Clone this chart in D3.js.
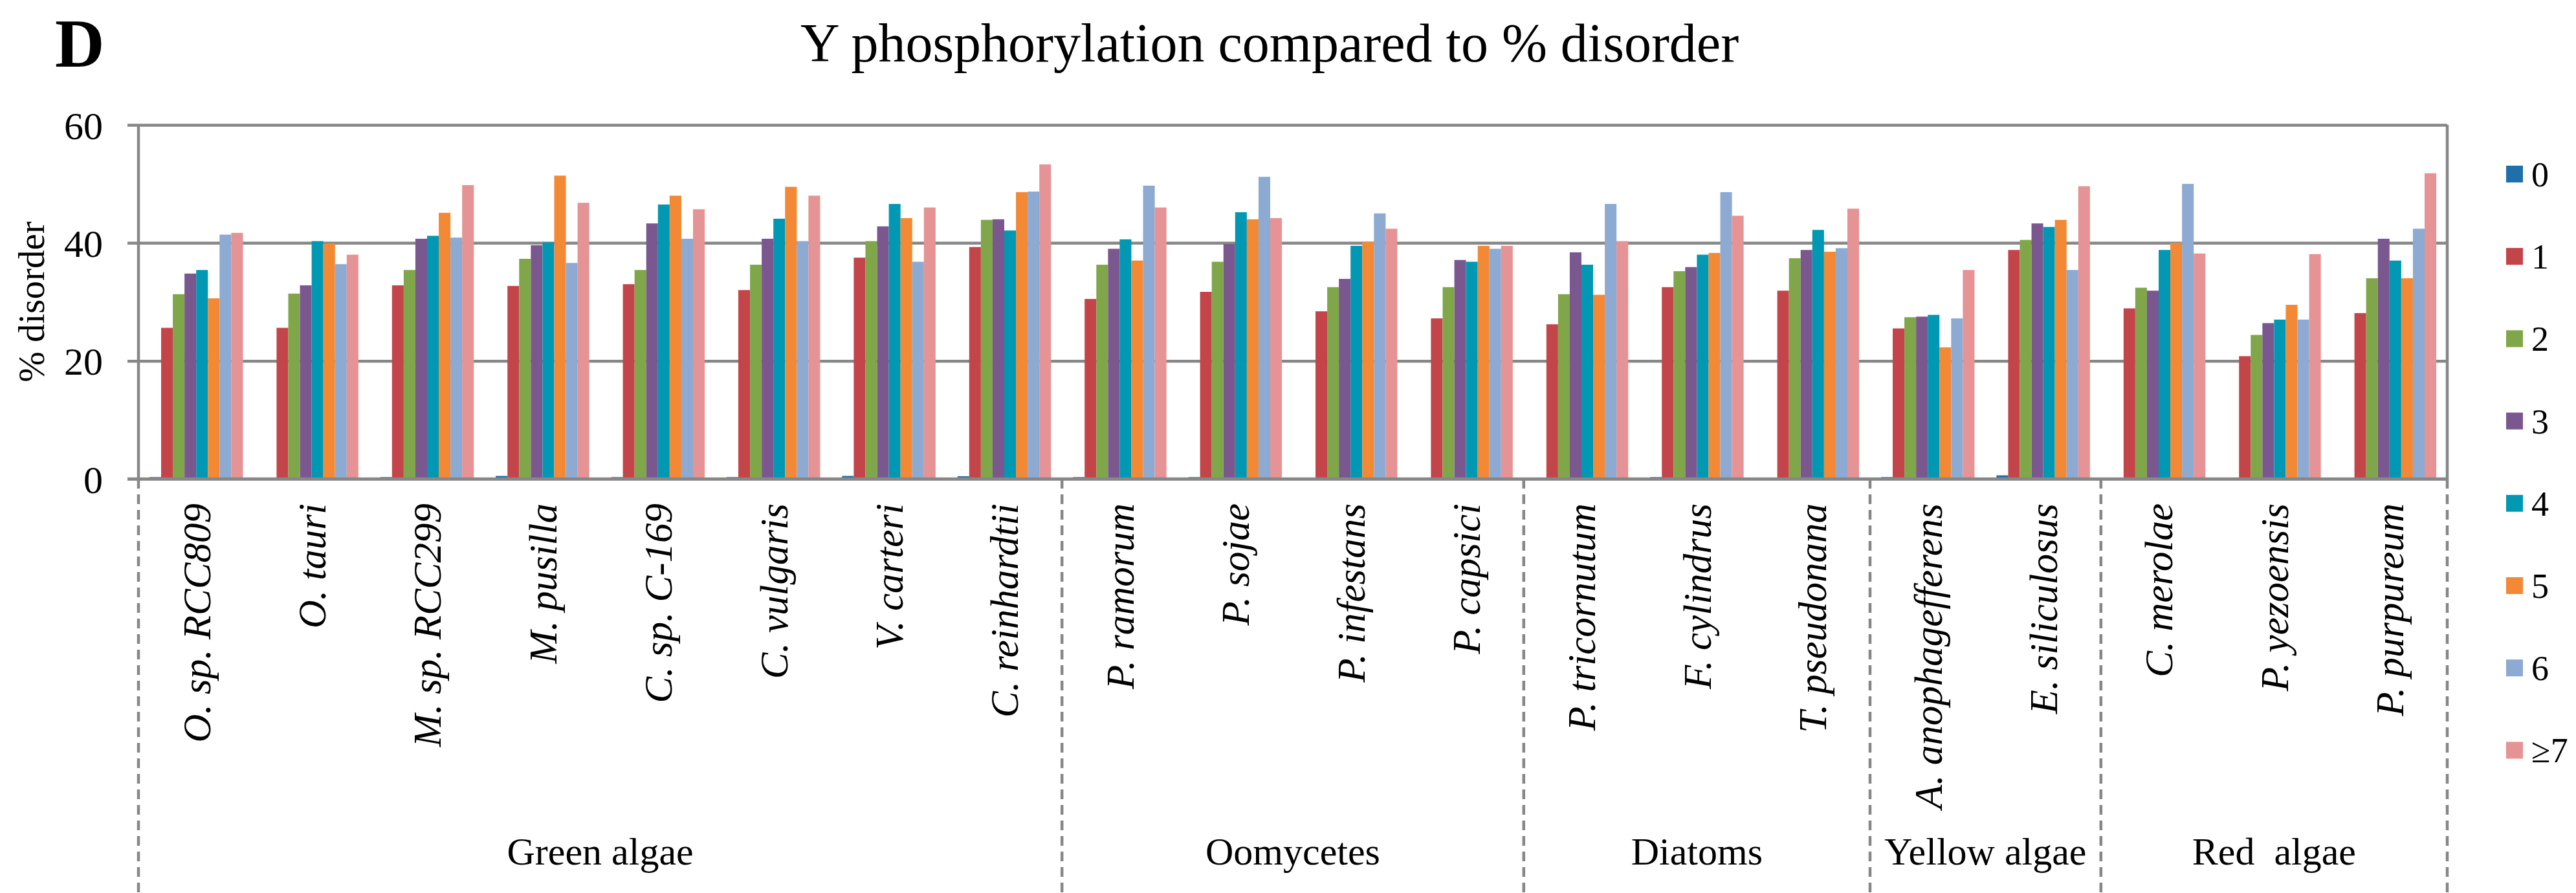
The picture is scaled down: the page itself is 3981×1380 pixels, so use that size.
<!DOCTYPE html>
<html lang="en">
<head>
<meta charset="utf-8">
<script src="https://d3js.org/d3.v7.min.js"></script>
<style>
  body { margin: 0; background: #fff; }
</style>
</head>
<body>
<script>
// categories (species) and the groups they belong to
const categories = ["O. sp. RCC809", "O. tauri", "M. sp. RCC299", "M. pusilla", "C. sp. C-169",
  "C. vulgaris", "V. carteri", "C. reinhardtii", "P. ramorum", "P. sojae", "P. infestans",
  "P. capsici", "P. tricornutum", "F. cylindrus", "T. pseudonana", "A. anophagefferens",
  "E. siliculosus", "C. merolae", "P. yezoensis", "P. purpureum"];
const groupNames = ["Green algae", "Oomycetes", "Diatoms", "Yellow algae", "Red  algae"];
const groupSizes = [8, 4, 3, 2, 3];
const seriesNames = ["0", "1", "2", "3", "4", "5", "6", "≥7"];
const yTicks = [0, 20, 40, 60];

// % disorder per series, one value per category
const s0 = [0.3, 0.1, 0.3, 0.5, 0.3, 0.3, 0.5, 0.45, 0.3, 0.3, 0.1, 0.2, 0.1, 0.3, 0.2, 0.3, 0.6, 0.2, 0.2, 0.2];
const s1 = [25.6, 25.6, 32.8, 32.7, 33.0, 32.0, 37.5, 39.3, 30.5, 31.7, 28.4, 27.2, 26.2, 32.5, 31.9, 25.5, 38.8, 28.9, 20.8, 28.1];
const s2 = [31.3, 31.4, 35.4, 37.3, 35.4, 36.3, 40.3, 43.9, 36.3, 36.8, 32.5, 32.5, 31.3, 35.2, 37.4, 27.4, 40.5, 32.4, 24.4, 34.0];
const s3 = [34.8, 32.8, 40.7, 39.6, 43.3, 40.7, 42.8, 44.0, 39.0, 39.8, 33.9, 37.1, 38.4, 35.9, 38.8, 27.5, 43.3, 31.9, 26.4, 40.7];
const s4 = [35.4, 40.3, 41.2, 40.1, 46.5, 44.1, 46.6, 42.1, 40.6, 45.2, 39.5, 36.8, 36.3, 38.0, 42.2, 27.8, 42.7, 38.8, 27.0, 37.0];
const s5 = [30.6, 39.9, 45.1, 51.4, 48.0, 49.5, 44.2, 48.6, 37.0, 44.0, 40.2, 39.5, 31.2, 38.3, 38.5, 22.3, 43.9, 40.0, 29.5, 34.0];
const s6 = [41.4, 36.4, 40.9, 36.6, 40.7, 40.3, 36.8, 48.7, 49.7, 51.2, 45.0, 39.0, 46.6, 48.6, 39.1, 27.2, 35.4, 50.0, 27.0, 42.4];
const s7 = [41.7, 38.0, 49.8, 46.8, 45.7, 48.0, 46.0, 53.3, 46.0, 44.2, 42.4, 39.5, 40.3, 44.6, 45.8, 35.4, 49.6, 38.2, 38.1, 51.8];
const seriesValues = [s0, s1, s2, s3, s4, s5, s6, s7];

const colors = ["#1f6fab", "#c3454a", "#80a64a", "#7b5790", "#0098b3", "#f38835", "#8caad2", "#e59394"];

const W = 3981, H = 1380;
const plotL = 214, plotR = 3782, plotT = 193, plotB = 740;
const gridColor = "#878787";
const serif = '"Liberation Serif", "Times New Roman", serif';

const svg = d3.select("body").append("svg")
  .attr("width", W).attr("height", H)
  .attr("font-family", serif);
svg.append("rect").attr("width", W).attr("height", H).attr("fill", "#fff");

const x0 = d3.scaleBand().domain(categories).range([plotL, plotR]).padding(0);
const gap = x0.bandwidth() * 0.19;
const x1 = d3.scaleBand().domain(seriesNames).range([gap / 2, x0.bandwidth() - gap / 2]).padding(0);
const y = d3.scaleLinear().domain([0, 60]).range([plotB, plotT]);

// gridlines + y tick labels
const yAxis = svg.append("g")
  .attr("transform", "translate(197,0)")
  .call(d3.axisRight(y).tickValues(yTicks).tickSize(plotR - 197).tickFormat(d3.format("d")))
  .attr("font-family", serif);
yAxis.select(".domain").remove();
yAxis.selectAll(".tick line").attr("stroke", gridColor).attr("stroke-width", 4.5);
yAxis.selectAll(".tick text")
  .attr("x", -38).attr("dy", "0.35em")
  .attr("text-anchor", "end")
  .attr("fill", "#000")
  .style("font-family", serif)
  .style("font-size", "60px");

// left axis line and right border
svg.append("line").attr("x1", plotL).attr("x2", plotL).attr("y1", plotT).attr("y2", plotB)
  .attr("stroke", gridColor).attr("stroke-width", 4.5);
svg.append("line").attr("x1", plotR).attr("x2", plotR).attr("y1", plotT).attr("y2", plotB)
  .attr("stroke", gridColor).attr("stroke-width", 4.5);

// bars
const cat = svg.append("g").selectAll("g")
  .data(categories)
  .enter().append("g")
  .attr("transform", d => "translate(" + x0(d) + ",0)");

cat.selectAll("rect")
  .data((d, i) => seriesNames.map((s, j) => ({ s: s, j: j, v: seriesValues[j][i] })))
  .enter().append("rect")
  .attr("x", d => x1(d.s))
  .attr("width", x1.bandwidth())
  .attr("y", d => y(d.v))
  .attr("height", d => plotB + 2 - y(d.v))
  .attr("fill", d => colors[d.j]);

// zero axis line over bar feet
svg.append("line").attr("x1", 197).attr("x2", plotR).attr("y1", y(0)).attr("y2", y(0))
  .attr("stroke", gridColor).attr("stroke-width", 4.5);

// category labels
svg.append("g").selectAll("text")
  .data(categories)
  .enter().append("text")
  .attr("transform", d => "translate(" + (x0(d) + x0.bandwidth() / 2) + ",778) rotate(-90)")
  .attr("text-anchor", "end")
  .attr("dy", "0.35em")
  .style("font-family", serif)
  .style("font-size", "61px")
  .style("font-style", "italic")
  .text(d => d);

// group separators and labels
let acc = 0;
const bounds = [0];
groupSizes.forEach(n => { acc += n; bounds.push(acc); });
const boundX = b => b < categories.length ? x0(categories[b]) : plotR;

svg.append("g").selectAll("line")
  .data(bounds)
  .enter().append("line")
  .attr("x1", boundX)
  .attr("x2", boundX)
  .attr("y1", plotB).attr("y2", H)
  .attr("stroke", gridColor).attr("stroke-width", 4.5)
  .attr("stroke-dasharray", "15,9");

svg.append("g").selectAll("text")
  .data(groupNames)
  .enter().append("text")
  .attr("x", (d, i) => (boundX(bounds[i]) + boundX(bounds[i + 1])) / 2)
  .attr("y", 1336)
  .attr("text-anchor", "middle")
  .style("font-family", serif)
  .style("font-size", "60px")
  .style("white-space", "pre")
  .text(d => d);

// y axis title
svg.append("text")
  .attr("transform", "translate(48," + (plotT + plotB) / 2 + ") rotate(-90)")
  .attr("text-anchor", "middle")
  .attr("dy", "0.35em")
  .style("font-family", serif)
  .style("font-size", "57px")
  .text("% disorder");

// title and panel letter
svg.append("text")
  .attr("x", 1962).attr("y", 95)
  .attr("text-anchor", "middle")
  .style("font-family", serif)
  .style("font-size", "84px")
  .text("Y phosphorylation compared to % disorder");
svg.append("text")
  .attr("x", 85).attr("y", 103)
  .style("font-family", serif)
  .style("font-size", "106px")
  .style("font-weight", "bold")
  .text("D");

// legend
const legend = svg.append("g").selectAll("g")
  .data(seriesNames)
  .enter().append("g")
  .attr("transform", (d, i) => "translate(3873," + (269 + i * 127.2) + ")");
legend.append("rect")
  .attr("x", 0).attr("y", -13).attr("width", 26).attr("height", 26)
  .attr("fill", (d, i) => colors[i]);
legend.append("text")
  .attr("x", 39).attr("dy", "0.35em")
  .style("font-family", serif)
  .style("font-size", "54px")
  .text(d => d);
</script>
</body>
</html>
